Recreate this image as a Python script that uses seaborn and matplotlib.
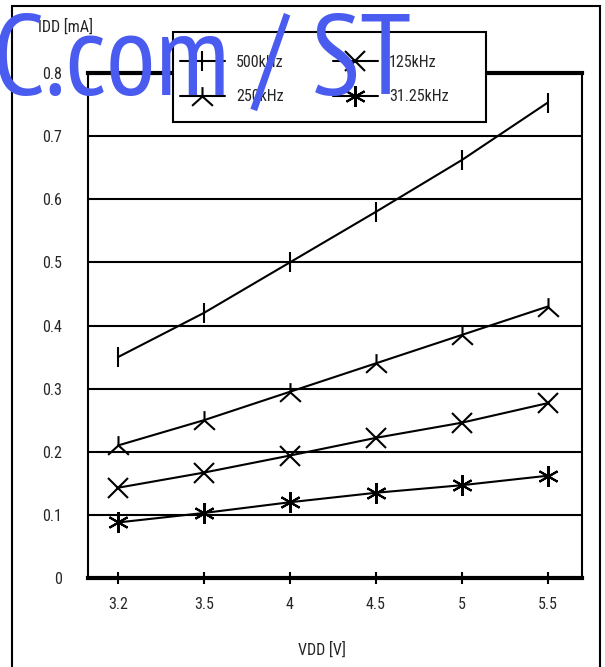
import matplotlib
matplotlib.use("Agg")
import matplotlib.pyplot as plt
import numpy as np
import pandas as pd
import seaborn as sns
from matplotlib.patches import Rectangle
from matplotlib.path import Path

vdd_labels = ["3.2", "3.5", "4", "4.5", "5", "5.5"]
freq_labels = ["500kHz", "250kHz", "125kHz", "31.25kHz"]
idd_500k = [0.35, 0.42, 0.50, 0.58, 0.662, 0.753]
idd_250k = [0.21, 0.25, 0.295, 0.34, 0.385, 0.43]
idd_125k = [0.143, 0.167, 0.194, 0.222, 0.246, 0.277]
idd_31k = [0.088, 0.103, 0.12, 0.135, 0.147, 0.162]
ytick_values = [0, 0.1, 0.2, 0.3, 0.4, 0.5, 0.6, 0.7, 0.8]
ytick_labels = ["0", "0.1", "0.2", "0.3", "0.4", "0.5", "0.6", "0.7", "0.8"]

W, H = 605, 667

df = pd.DataFrame({
    "VDD": vdd_labels * 4,
    "IDD": idd_500k + idd_250k + idd_125k + idd_31k,
    "freq": np.repeat(freq_labels, len(vdd_labels)),
})

sns.set_style("white")
plt.rcParams["font.family"] = ["Roboto Condensed", "Liberation Sans", "DejaVu Sans"]

fig = plt.figure(figsize=(W / 100, H / 100), dpi=100)
ax = fig.add_axes([88 / W, 1 - 578 / H, (582 - 88) / W, (578 - 73) / H])

markers = {"500kHz": "|", "250kHz": "2", "125kHz": "x", "31.25kHz": (6, 2, 0)}
sns.lineplot(data=df, x="VDD", y="IDD", hue="freq", style="freq",
             palette=["black"] * 4, markers=markers, dashes=False,
             markersize=15, markeredgewidth=1.5, markeredgecolor="black",
             linewidth=1.5, legend=False, ax=ax, zorder=3)

# 250kHz marker: short stem up, legs splayed at ~45 degrees (not matplotlib's 120deg tri)
M, L = Path.MOVETO, Path.LINETO
tri = Path([(0, 0), (0, 0.9), (0, 0), (-1, -0.9), (0, 0), (1, -0.9)], [M, L, M, L, M, L])
ax.get_lines()[1].set_marker(tri)
ax.get_lines()[1].set_fillstyle("none")
ax.get_lines()[1].set_markersize(15)

ax.set_xlim(-0.35, 5.4)
ax.set_ylim(0, 0.8)
ax.set_yticks(ytick_values)
ax.set_yticklabels(ytick_labels)
ax.yaxis.grid(True, color="black", linewidth=1.5)
ax.set_axisbelow(True)
ax.set_xlabel("")
ax.set_ylabel("")

for side in ["left", "right"]:
    ax.spines[side].set_linewidth(1.5)
for side in ["top", "bottom"]:
    ax.spines[side].set_linewidth(3)
for s in ax.spines.values():
    s.set_color("black")

ax.tick_params(axis="x", direction="inout", length=9, width=1.5, pad=9,
               labelsize=11.5, bottom=True, color="black")
ax.tick_params(axis="y", length=0, pad=19, labelsize=11.5)

# legend in an open box straddling the top edge
handles = ax.get_lines()[:4]
leg = ax.legend(handles, freq_labels, ncol=2, loc="upper left",
                bbox_to_anchor=(180 / W, 1 - 55 / H), bbox_transform=fig.transFigure,
                frameon=False, fontsize=11.5, handlelength=2.8, handletextpad=0.7,
                columnspacing=3.1, labelspacing=1.2, borderpad=0, borderaxespad=0)
fig.add_artist(Rectangle((173 / W, 1 - 122 / H), (486 - 173) / W, (122 - 32) / H,
                         transform=fig.transFigure, fill=True, facecolor="white",
                         edgecolor="black", linewidth=1.5, zorder=4))
leg.set_zorder(5)
fig.add_artist(leg)

fig.text(322 / W, 1 - 650 / H, "VDD [V]", ha="center", va="center", fontsize=11.5)
fig.text(38 / W, 1 - 27 / H, "IDD [mA]", ha="left", va="center", fontsize=11.5)

# outer frame
fig.add_artist(Rectangle((12 / W, -0.05), (600 - 12) / W, 1.05 - 6 / H,
                         transform=fig.transFigure, fill=False,
                         edgecolor="black", linewidth=1.5))

# watermark
fig.text(411 / W, 1 - 95 / H, "C.com / ST", ha="right", va="baseline",
         fontsize=82, color="#4a5cf0", family="PT Sans Narrow", zorder=10)

fig.savefig("out.png", dpi=100)
